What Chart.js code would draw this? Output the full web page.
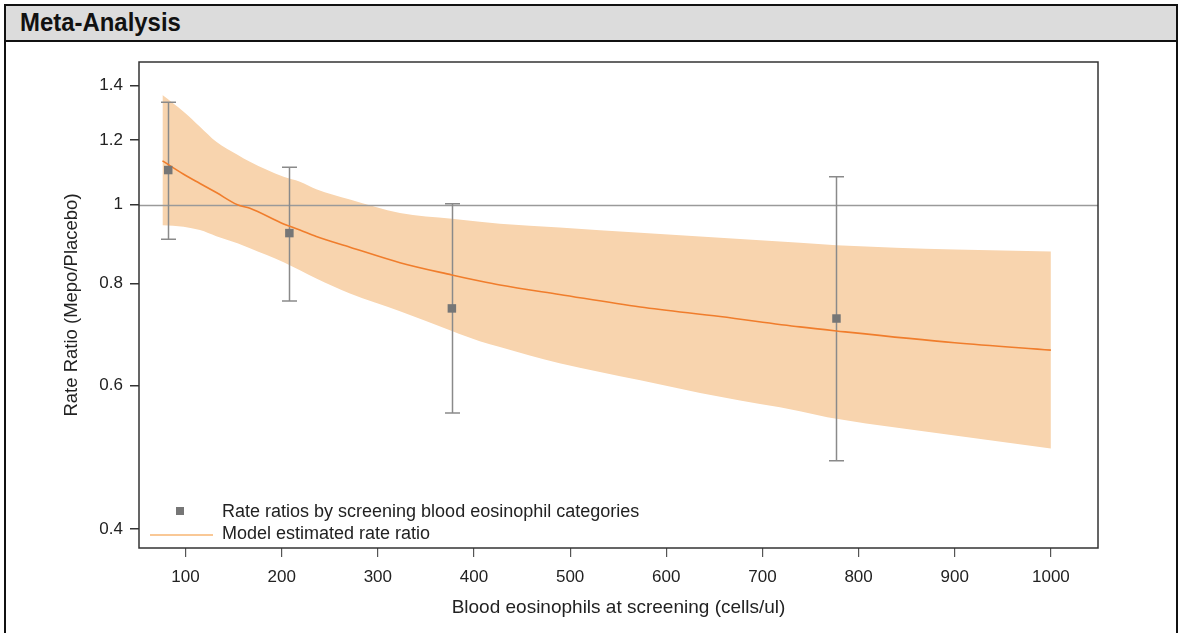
<!DOCTYPE html>
<html>
<head>
<meta charset="utf-8">
<title>Meta-Analysis</title>
<script src="https://cdn.jsdelivr.net/npm/chart.js@4.4.0/dist/chart.umd.min.js"></script>
<style>
  html, body { margin: 0; padding: 0; background: #fff; width: 1180px; height: 633px; overflow: hidden; }
  #plot { position: absolute; left: 0; top: 0; }
  #frame { position: absolute; left: 4px; top: 4px; width: 1174px; height: 700px; border: 2px solid #111; box-sizing: border-box; pointer-events: none; }
  #hdr { position: absolute; left: 0; top: 0; right: 0; height: 34px; background: #dcdcdc; border-bottom: 2px solid #111; }
  #hdr span { position: absolute; left: 14px; top: 1px; line-height: 33px; font: bold 26px "Liberation Sans Narrow", "Arial Narrow", "Liberation Sans", sans-serif; color: #111; transform: scaleX(0.92); transform-origin: 0 50%; white-space: nowrap; }
</style>
</head>
<body>
<canvas id="plot" width="1180" height="633"></canvas>
<div id="frame"><div id="hdr"><span>Meta-Analysis</span></div></div>
<script>
// Rate ratios by screening blood eosinophil category, with 95% CI
const categoryX = [82, 208, 377, 777];
const rateRatio = [1.103, 0.923, 0.746, 0.725];
const ciLower = [0.907, 0.762, 0.555, 0.485];
const ciUpper = [1.336, 1.112, 1.003, 1.082];

// Model estimated rate ratio and its confidence band
const modelX     = [76, 98, 115, 132, 154, 167, 202, 219, 236, 271, 323, 377, 406, 427, 489, 573, 656, 739, 777, 900, 1000];
const modelRR    = [1.132, 1.090, 1.062, 1.035, 1.000, 0.990, 0.947, 0.931, 0.914, 0.887, 0.849, 0.820, 0.806, 0.797, 0.776, 0.749, 0.729, 0.708, 0.700, 0.677, 0.663];
const modelUpper = [1.364, 1.301, 1.247, 1.195, 1.152, 1.129, 1.082, 1.067, 1.045, 1.015, 0.977, 0.961, 0.953, 0.948, 0.938, 0.924, 0.911, 0.898, 0.892, 0.881, 0.876];
const modelLower = [0.944, 0.940, 0.931, 0.915, 0.897, 0.884, 0.850, 0.831, 0.812, 0.778, 0.740, 0.700, 0.680, 0.669, 0.639, 0.609, 0.581, 0.558, 0.546, 0.521, 0.502];

// Axis ticks
const xTicks = [100, 200, 300, 400, 500, 600, 700, 800, 900, 1000];
const yTicks = [0.4, 0.6, 0.8, 1, 1.2, 1.4];
const referenceRR = 1;

const LABEL_POINTS = 'Rate ratios by screening blood eosinophil categories';
const LABEL_MODEL = 'Model estimated rate ratio';

const BAND = '#f8d4ae';
const LINE = '#f07d2c';
const GREY = '#8a8a8a';
const MARK = '#767676';
const FONT = '"Liberation Sans", Arial, sans-serif';

const pts = (xs, ys) => xs.map((x, i) => ({ x: x, y: ys[i] }));

// Reference line at RR = 1 and the category CI whiskers, drawn above the band
const overlays = {
  id: 'overlays',
  afterDatasetDraw(chart, args) {
    if (args.meta.label !== 'band-lower') return;
    const { ctx, chartArea: a, scales: { x, y } } = chart;
    ctx.save();
    ctx.beginPath(); ctx.rect(a.left, a.top, a.right - a.left, a.bottom - a.top); ctx.clip();
    ctx.strokeStyle = '#9a9a9a';
    ctx.lineWidth = 1.5;
    const yr = Math.round(y.getPixelForValue(referenceRR)) + 0.5;
    ctx.beginPath(); ctx.moveTo(a.left, yr); ctx.lineTo(a.right, yr); ctx.stroke();
    ctx.strokeStyle = GREY;
    categoryX.forEach((cx, i) => {
      const px = Math.round(x.getPixelForValue(cx)) + 0.5;
      const yl = y.getPixelForValue(ciLower[i]);
      const yh = y.getPixelForValue(ciUpper[i]);
      ctx.beginPath();
      ctx.moveTo(px, yl); ctx.lineTo(px, yh);
      ctx.moveTo(px - 7.5, yl); ctx.lineTo(px + 7.5, yl);
      ctx.moveTo(px - 7.5, yh); ctx.lineTo(px + 7.5, yh);
      ctx.stroke();
    });
    ctx.restore();
  }
};

// Plot frame and in-plot legend
const frameAndLegend = {
  id: 'frameAndLegend',
  afterDraw(chart) {
    const { ctx, chartArea: a } = chart;
    ctx.save();
    ctx.strokeStyle = '#333';
    ctx.lineWidth = 1.5;
    ctx.strokeRect(a.left, a.top, a.right - a.left, a.bottom - a.top);

    const lx = a.left, ly = a.bottom;
    ctx.fillStyle = MARK;
    ctx.fillRect(lx + 37, ly - 41, 8, 8);
    ctx.strokeStyle = '#f9c896';
    ctx.lineWidth = 2;
    ctx.beginPath(); ctx.moveTo(lx + 11, ly - 13); ctx.lineTo(lx + 74, ly - 13); ctx.stroke();
    ctx.fillStyle = '#222';
    ctx.font = '18px ' + FONT;
    ctx.textBaseline = 'middle';
    ctx.fillText(LABEL_POINTS, lx + 83, ly - 36);
    ctx.fillText(LABEL_MODEL, lx + 83, ly - 14);
    ctx.restore();
  }
};

new Chart(document.getElementById('plot'), {
  type: 'line',
  data: {
    datasets: [
      {
        label: LABEL_POINTS, type: 'scatter', order: 0,
        data: pts(categoryX, rateRatio),
        pointStyle: 'rect', pointRadius: 6, pointHoverRadius: 6,
        backgroundColor: MARK, borderColor: MARK, borderWidth: 0
      },
      {
        label: LABEL_MODEL, order: 1,
        data: pts(modelX, modelRR),
        borderColor: LINE, borderWidth: 1.6, pointRadius: 0, cubicInterpolationMode: 'monotone', fill: false
      },
      {
        label: 'band-upper', order: 3,
        data: pts(modelX, modelUpper),
        borderWidth: 0, pointRadius: 0, fill: false, cubicInterpolationMode: 'monotone'
      },
      {
        label: 'band-lower', order: 2,
        data: pts(modelX, modelLower),
        borderWidth: 0, pointRadius: 0, fill: '-1', backgroundColor: BAND, cubicInterpolationMode: 'monotone'
      }
    ]
  },
  options: {
    responsive: false,
    animation: false,
    events: [],
    layout: { padding: { top: 62, right: 82, left: 0, bottom: 0 } },
    plugins: { legend: { display: false }, tooltip: { enabled: false } },
    scales: {
      x: {
        type: 'linear', min: 51.6, max: 1049,
        afterBuildTicks: s => { s.ticks = xTicks.map(v => ({ value: v })); },
        afterFit: s => { s.height = 85; s.paddingLeft = s.paddingRight = 0; },
        grid: { drawOnChartArea: false, drawTicks: true, tickLength: 9, color: '#555', lineWidth: 1.2 },
        border: { display: false },
        ticks: { color: '#222', padding: 10, font: { family: FONT, size: 17 }, maxRotation: 0, callback: v => String(v) },
        title: { display: true, text: 'Blood eosinophils at screening (cells/ul)', color: '#222', font: { family: FONT, size: 19 }, padding: { bottom: 14 } }
      },
      y: {
        type: 'logarithmic', min: 0.379, max: 1.497,
        afterBuildTicks: s => { s.ticks = yTicks.map(v => ({ value: v })); },
        afterFit: s => { s.width = 139; s.paddingTop = s.paddingBottom = 0; },
        grid: { drawOnChartArea: false, drawTicks: true, tickLength: 9, color: '#333', lineWidth: 1.5 },
        border: { display: false },
        ticks: { color: '#222', padding: 7, font: { family: FONT, size: 17 }, callback: v => String(v) },
        title: { display: true, text: 'Rate Ratio (Mepo/Placebo)', color: '#222', font: { family: FONT, size: 18.5 }, padding: { top: 61 } }
      }
    }
  },
  plugins: [overlays, frameAndLegend]
});
</script>
</body>
</html>
